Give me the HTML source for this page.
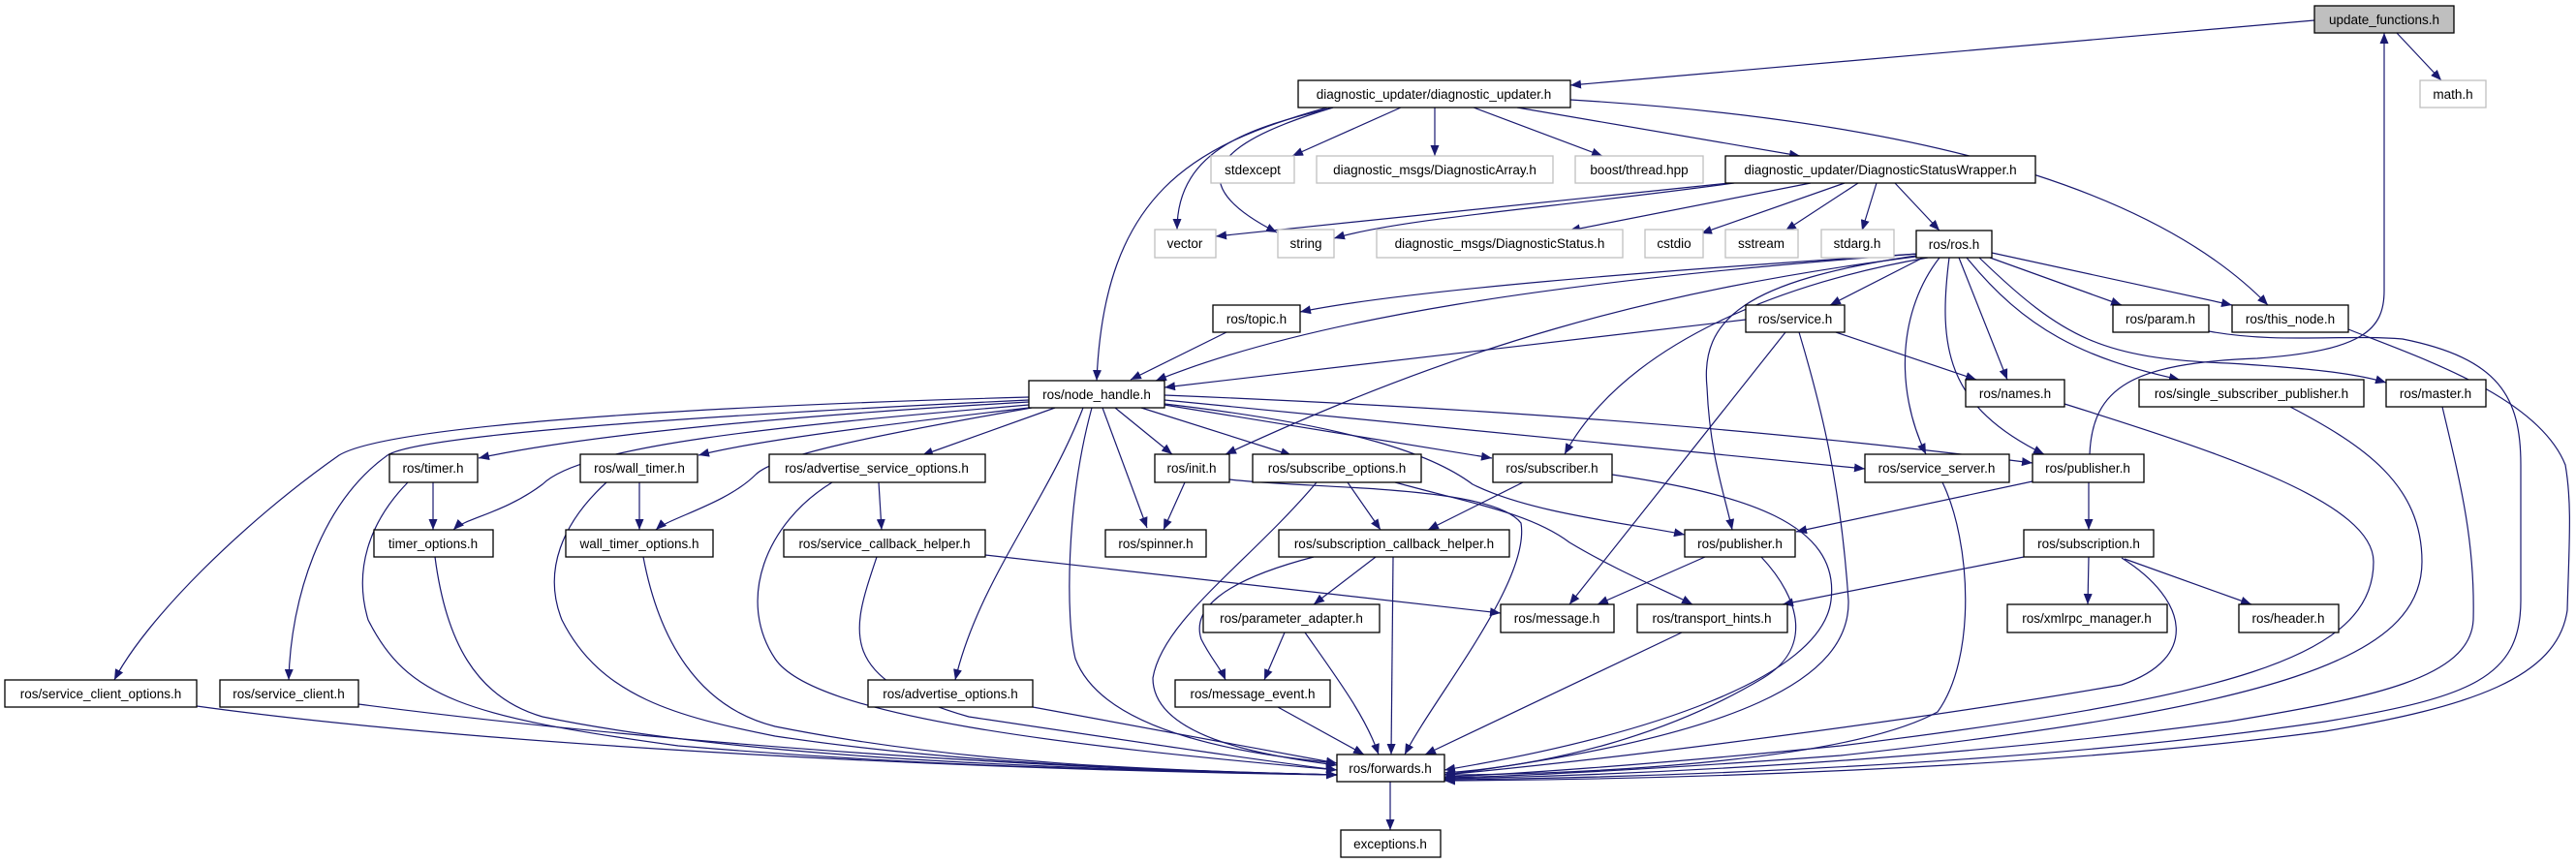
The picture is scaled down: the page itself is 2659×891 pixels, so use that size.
<!DOCTYPE html>
<html><head><meta charset="utf-8"><style>
html,body{margin:0;padding:0;background:#fff;}
svg{display:block;}
text{font-family:"Liberation Sans",sans-serif;font-size:13.5px;fill:#000;text-anchor:middle;}
.n{fill:#fff;stroke:#000;stroke-width:1.3;}
.g{fill:#fff;stroke:#bfbfbf;stroke-width:1.3;}
.e{fill:none;stroke:#191970;stroke-width:1.2;marker-end:url(#a);}
</style></head><body>
<svg width="2659" height="891" viewBox="0 0 2659 891" xmlns="http://www.w3.org/2000/svg">
<defs><marker id="a" markerUnits="userSpaceOnUse" markerWidth="12" markerHeight="9" refX="11" refY="4.5" orient="auto"><path d="M0,0 L11,4.5 L0,9 z" fill="#191970"/></marker></defs>
<g>
<path class="e" d="M2389,21 L1621,88"/>
<path class="e" d="M2474,34 L2520,83"/>
<path class="e" d="M2157,469 C2160,400 2200,375 2330,370 C2440,362 2461,340 2461,300 L2461,34"/>
<path class="e" d="M1446,111 L1334,161"/>
<path class="e" d="M1481,111 L1481,161"/>
<path class="e" d="M1521,111 L1654,161"/>
<path class="e" d="M1566,111 L1858,161"/>
<path class="e" d="M1376,111 C1300,130 1215,150 1215,237"/>
<path class="e" d="M1376,111 C1280,140 1200,180 1318,240"/>
<path class="e" d="M1370,111 C1230,150 1140,200 1132,393"/>
<path class="e" d="M1621,103 C1900,120 2200,170 2341,315"/>
<path class="e" d="M1785,189 L1255,244"/>
<path class="e" d="M1790,189 C1600,215 1450,225 1377,246"/>
<path class="e" d="M1869,189 L1620,238"/>
<path class="e" d="M1904,189 L1756,241"/>
<path class="e" d="M1918,189 L1843,238"/>
<path class="e" d="M1937,189 L1922,238"/>
<path class="e" d="M1956,189 L2002,238"/>
<path class="e" d="M1980,262 C1700,280 1450,300 1342,322"/>
<path class="e" d="M1980,262 C1600,290 1350,330 1193,393"/>
<path class="e" d="M1802,330 L1202,400"/>
<path class="e" d="M1985,264 C1700,300 1500,360 1265,469"/>
<path class="e" d="M1990,266 C1850,290 1680,350 1615,469"/>
<path class="e" d="M1985,266 L1889,315"/>
<path class="e" d="M1978,264 C1800,290 1755,330 1762,400 C1765,470 1780,510 1788,547"/>
<path class="e" d="M2002,266 C1960,320 1955,400 1988,469"/>
<path class="e" d="M2022,266 L2072,392"/>
<path class="e" d="M2012,266 C2000,360 2010,420 2110,469"/>
<path class="e" d="M2030,266 C2090,340 2150,370 2250,392"/>
<path class="e" d="M2043,266 C2130,350 2170,370 2300,375 C2380,380 2430,385 2463,395"/>
<path class="e" d="M2054,266 L2190,315"/>
<path class="e" d="M2056,261 L2304,315"/>
<path class="e" d="M1895,343 L2040,392"/>
<path class="e" d="M1843,343 L1620,624"/>
<path class="e" d="M1857,343 C1880,420 1900,500 1908,620 C1910,700 1800,760 1491,800"/>
<path class="e" d="M1266,343 L1167,392"/>
<path class="e" d="M1062,410 C700,420 400,440 350,470 C250,540 150,640 118,702"/>
<path class="e" d="M1062,413 C700,430 430,450 400,470 C330,520 300,620 298,702"/>
<path class="e" d="M1062,415 C800,430 600,450 494,473"/>
<path class="e" d="M1062,418 C800,440 600,460 560,500 C520,530 480,535 468,547"/>
<path class="e" d="M1062,421 C900,440 780,455 721,470"/>
<path class="e" d="M1065,421 C900,450 800,470 780,490 C750,520 690,535 677,547"/>
<path class="e" d="M1089,421 L952,470"/>
<path class="e" d="M1118,421 C1080,520 1010,600 986,702"/>
<path class="e" d="M1127,421 C1100,520 1100,640 1110,680 C1140,760 1300,780 1380,788"/>
<path class="e" d="M1138,421 L1184,545"/>
<path class="e" d="M1151,421 L1210,469"/>
<path class="e" d="M1178,421 L1333,470"/>
<path class="e" d="M1202,418 L1540,473"/>
<path class="e" d="M1202,408 C1500,420 1800,440 2098,478"/>
<path class="e" d="M1202,413 L1925,484"/>
<path class="e" d="M1202,417 C1400,440 1480,470 1520,500 C1580,530 1680,540 1739,552"/>
<path class="e" d="M1223,498 L1201,547"/>
<path class="e" d="M1269,495 C1350,505 1540,500 1570,540 C1580,600 1480,720 1450,779"/>
<path class="e" d="M1391,498 L1425,547"/>
<path class="e" d="M1359,498 C1290,580 1200,640 1190,700 C1190,760 1300,780 1380,790"/>
<path class="e" d="M1440,498 C1520,520 1580,530 1620,560 C1670,590 1720,610 1747,624"/>
<path class="e" d="M1572,498 L1474,547"/>
<path class="e" d="M1664,490 C1800,510 1900,540 1890,620 C1880,700 1700,760 1491,795"/>
<path class="e" d="M1017,573 L1549,633"/>
<path class="e" d="M905,575 C880,650 860,700 1000,740 C1200,770 1300,785 1380,795"/>
<path class="e" d="M907,498 L910,547"/>
<path class="e" d="M859,498 C790,540 760,620 800,680 C840,740 1100,770 1380,795"/>
<path class="e" d="M447,498 L447,547"/>
<path class="e" d="M421,498 C380,540 365,590 380,640 C420,720 480,740 700,770 C1000,795 1200,795 1380,800"/>
<path class="e" d="M660,498 L660,547"/>
<path class="e" d="M626,498 C580,540 560,590 580,640 C620,720 700,740 800,760 C1000,790 1200,795 1380,800"/>
<path class="e" d="M449,575 C460,660 490,720 560,740 C800,790 1200,795 1380,800"/>
<path class="e" d="M664,575 C680,660 720,730 800,750 C1000,790 1200,795 1380,800"/>
<path class="e" d="M203,729 C500,770 1000,795 1380,800"/>
<path class="e" d="M370,727 C700,770 1100,795 1380,800"/>
<path class="e" d="M1066,730 L1380,788"/>
<path class="e" d="M1420,575 L1356,624"/>
<path class="e" d="M1356,575 C1260,600 1230,630 1240,660 C1250,680 1260,690 1265,702"/>
<path class="e" d="M1438,575 L1436,779"/>
<path class="e" d="M1326,653 L1305,702"/>
<path class="e" d="M1347,653 C1380,700 1410,740 1423,779"/>
<path class="e" d="M1319,730 L1408,779"/>
<path class="e" d="M1736,653 L1471,779"/>
<path class="e" d="M1760,575 L1649,624"/>
<path class="e" d="M1818,575 C1860,620 1870,670 1820,700 C1720,760 1600,790 1491,798"/>
<path class="e" d="M2098,497 L1854,549"/>
<path class="e" d="M2156,498 L2156,547"/>
<path class="e" d="M2089,575 L1840,624"/>
<path class="e" d="M2156,575 L2155,624"/>
<path class="e" d="M2193,577 L2324,624"/>
<path class="e" d="M2190,576 C2260,620 2270,680 2190,707 C2000,740 1700,780 1491,800"/>
<path class="e" d="M2005,498 C2035,560 2040,680 2000,735 C1900,790 1600,800 1491,800"/>
<path class="e" d="M2131,417 C2300,470 2450,520 2450,580 C2450,680 2300,720 1900,770 C1700,790 1550,800 1491,802"/>
<path class="e" d="M2364,420 C2440,460 2500,500 2500,580 C2500,680 2350,730 1900,780 C1700,795 1550,802 1491,803"/>
<path class="e" d="M2521,420 C2540,500 2555,560 2553,640 C2550,700 2450,720 2300,745 C2000,785 1700,800 1491,804"/>
<path class="e" d="M2280,342 C2350,355 2420,345 2480,350 C2580,370 2602,410 2602,480 L2602,620 C2602,700 2550,720 2400,745 C2100,790 1700,803 1491,805"/>
<path class="e" d="M2424,340 C2500,370 2620,410 2648,480 C2655,520 2652,560 2650,630 C2640,700 2550,730 2400,755 C2100,795 1700,805 1491,806"/>
<path class="e" d="M1435,807 L1435,857"/>
</g>
<g>
<rect x="2389" y="6" width="144" height="28" fill="#bfbfbf" stroke="#000" stroke-width="1.3"/><text x="2461" y="25">update_functions.h</text>
<rect class="g" x="2498" y="83" width="68" height="28"/><text x="2532" y="102">math.h</text>
<rect class="n" x="1340" y="83" width="281" height="28"/><text x="1480" y="102">diagnostic_updater/diagnostic_updater.h</text>
<rect class="g" x="1250" y="161" width="86" height="28"/><text x="1293" y="180">stdexcept</text>
<rect class="g" x="1359" y="161" width="244" height="28"/><text x="1481" y="180">diagnostic_msgs/DiagnosticArray.h</text>
<rect class="g" x="1626" y="161" width="132" height="28"/><text x="1692" y="180">boost/thread.hpp</text>
<rect class="n" x="1781" y="161" width="320" height="28"/><text x="1941" y="180">diagnostic_updater/DiagnosticStatusWrapper.h</text>
<rect class="g" x="1192" y="237" width="63" height="29"/><text x="1223" y="256">vector</text>
<rect class="g" x="1319" y="237" width="58" height="29"/><text x="1348" y="256">string</text>
<rect class="g" x="1421" y="237" width="254" height="29"/><text x="1548" y="256">diagnostic_msgs/DiagnosticStatus.h</text>
<rect class="g" x="1698" y="237" width="60" height="29"/><text x="1728" y="256">cstdio</text>
<rect class="g" x="1781" y="237" width="75" height="29"/><text x="1818" y="256">sstream</text>
<rect class="g" x="1880" y="237" width="75" height="29"/><text x="1917" y="256">stdarg.h</text>
<rect class="n" x="1978" y="238" width="78" height="28"/><text x="2017" y="257">ros/ros.h</text>
<rect class="n" x="1252" y="315" width="90" height="28"/><text x="1297" y="334">ros/topic.h</text>
<rect class="n" x="1802" y="315" width="102" height="28"/><text x="1853" y="334">ros/service.h</text>
<rect class="n" x="2181" y="315" width="99" height="28"/><text x="2230" y="334">ros/param.h</text>
<rect class="n" x="2304" y="315" width="120" height="28"/><text x="2364" y="334">ros/this_node.h</text>
<rect class="n" x="1062" y="393" width="140" height="28"/><text x="1132" y="412">ros/node_handle.h</text>
<rect class="n" x="2029" y="392" width="102" height="28"/><text x="2080" y="411">ros/names.h</text>
<rect class="n" x="2208" y="392" width="232" height="28"/><text x="2324" y="411">ros/single_subscriber_publisher.h</text>
<rect class="n" x="2463" y="392" width="103" height="28"/><text x="2514" y="411">ros/master.h</text>
<rect class="n" x="402" y="469" width="91" height="29"/><text x="447" y="488">ros/timer.h</text>
<rect class="n" x="599" y="469" width="121" height="29"/><text x="660" y="488">ros/wall_timer.h</text>
<rect class="n" x="794" y="469" width="223" height="29"/><text x="905" y="488">ros/advertise_service_options.h</text>
<rect class="n" x="1192" y="469" width="77" height="29"/><text x="1230" y="488">ros/init.h</text>
<rect class="n" x="1293" y="469" width="174" height="29"/><text x="1380" y="488">ros/subscribe_options.h</text>
<rect class="n" x="1541" y="469" width="123" height="29"/><text x="1602" y="488">ros/subscriber.h</text>
<rect class="n" x="1925" y="469" width="149" height="29"/><text x="1999" y="488">ros/service_server.h</text>
<rect class="n" x="2098" y="469" width="115" height="29"/><text x="2155" y="488">ros/publisher.h</text>
<rect class="n" x="386" y="547" width="123" height="28"/><text x="447" y="566">timer_options.h</text>
<rect class="n" x="584" y="547" width="152" height="28"/><text x="660" y="566">wall_timer_options.h</text>
<rect class="n" x="809" y="547" width="208" height="28"/><text x="913" y="566">ros/service_callback_helper.h</text>
<rect class="n" x="1141" y="547" width="104" height="28"/><text x="1193" y="566">ros/spinner.h</text>
<rect class="n" x="1320" y="547" width="238" height="28"/><text x="1439" y="566">ros/subscription_callback_helper.h</text>
<rect class="n" x="1739" y="547" width="114" height="28"/><text x="1796" y="566">ros/publisher.h</text>
<rect class="n" x="2089" y="547" width="134" height="28"/><text x="2156" y="566">ros/subscription.h</text>
<rect class="n" x="1242" y="624" width="182" height="29"/><text x="1333" y="643">ros/parameter_adapter.h</text>
<rect class="n" x="1549" y="624" width="117" height="29"/><text x="1607" y="643">ros/message.h</text>
<rect class="n" x="1690" y="624" width="155" height="29"/><text x="1767" y="643">ros/transport_hints.h</text>
<rect class="n" x="2072" y="624" width="165" height="29"/><text x="2154" y="643">ros/xmlrpc_manager.h</text>
<rect class="n" x="2311" y="624" width="103" height="29"/><text x="2362" y="643">ros/header.h</text>
<rect class="n" x="5" y="702" width="198" height="28"/><text x="104" y="721">ros/service_client_options.h</text>
<rect class="n" x="227" y="702" width="143" height="28"/><text x="298" y="721">ros/service_client.h</text>
<rect class="n" x="896" y="702" width="170" height="28"/><text x="981" y="721">ros/advertise_options.h</text>
<rect class="n" x="1213" y="702" width="160" height="28"/><text x="1293" y="721">ros/message_event.h</text>
<rect class="n" x="1380" y="779" width="111" height="28"/><text x="1435" y="798">ros/forwards.h</text>
<rect class="n" x="1384" y="857" width="103" height="28"/><text x="1435" y="876">exceptions.h</text>
</g>
</svg>
</body></html>
